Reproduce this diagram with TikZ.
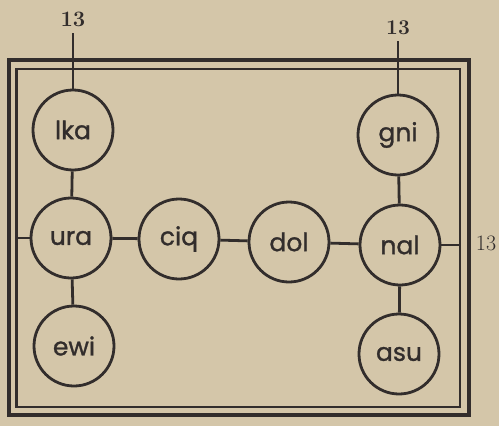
\documentclass[tikz,border=0pt]{standalone}
\usepackage{fontspec}
\newfontfamily\labelfont[FakeBold=1.2]{Poppins}
\definecolor{paper}{RGB}{212,198,169}
\definecolor{ink}{RGB}{50,45,44}
\begin{document}
\begin{tikzpicture}[x=1pt,y=-1pt,
  cell/.style={circle,draw=ink,line width=2.8pt,minimum size=80pt,inner sep=0pt,
    font=\labelfont\fontsize{25}{25}\selectfont,text=ink},
  link/.style={draw=ink,line width=2.8pt},
  num/.style={text=ink,inner sep=0pt,font=\fontsize{22}{22}\selectfont}]
  % paper
  \fill[paper] (0,0) rectangle (499,426);
  \useasboundingbox (0,0) rectangle (499,426);
  % double frame
  \draw[ink,line width=4.5pt] (9,60) rectangle (469,415);
  \draw[ink,line width=2.8pt] (16.5,69) rectangle (460,407);
  % circles
  \node[cell] (lka) at (73,130) {lka};
  \node[cell] (ura) at (71,238) {ura};
  \node[cell] (ewi) at (74,346) {ewi};
  \node[cell] (ciq) at (179,239) {ciq};
  \node[cell] (dol) at (289,242) {dol};
  \node[cell] (nal) at (400,245) {nal};
  \node[cell] (gni) at (398,135) {gni};
  \node[cell] (asu) at (399,354) {asu};
  % outside labels
  \node[num,font=\bfseries\fontsize{22}{22}\selectfont] (n1) at (73,19) {13};
  \node[num,font=\bfseries\fontsize{21}{21}\selectfont] (n2) at (398,28) {13};
  \node[num] (n3) at (486,243) {13};
  \coordinate (t1) at (73,33);
  \coordinate (t2) at (398,41);
  \coordinate (r1) at (460,245);
  \coordinate (l1) at (16,238);
  % connectors
  \draw[link] (t1) -- (lka);
  \draw[link] (lka) -- (ura);
  \draw[link] (ura) -- (ewi);
  \draw[link] (l1) -- (ura);
  \draw[link] (ura) -- (ciq);
  \draw[link] (ciq) -- (dol);
  \draw[link] (dol) -- (nal);
  \draw[link] (t2) -- (gni);
  \draw[link] (gni) -- (nal);
  \draw[link] (nal) -- (asu);
  \draw[link] (nal) -- (r1);
\end{tikzpicture}
\end{document}
